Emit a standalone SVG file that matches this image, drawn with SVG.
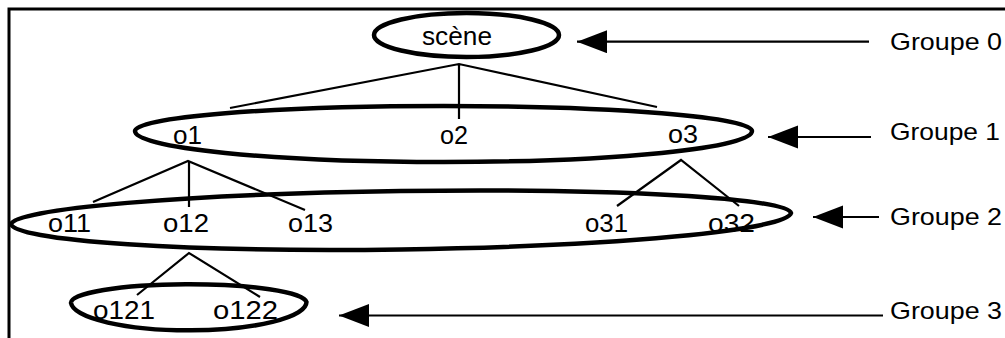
<svg xmlns="http://www.w3.org/2000/svg" width="1005" height="338" viewBox="0 0 1005 338">
<style>
.bg{fill:#fff}
.frame{stroke:#000;stroke-width:3;fill:none}
.grp{fill:none;stroke:#000;stroke-width:4.5}
.edge{stroke:#000;stroke-width:2.2;fill:none}
.arr{stroke:#000;stroke-width:2.2;fill:none;marker-end:url(#ah)}
.t{font-family:"Liberation Sans",Arial,Helvetica,sans-serif;font-size:25px;fill:#000}
.g{font-family:"Liberation Sans",Arial,Helvetica,sans-serif;font-size:24px;fill:#000}
</style>
<defs>
<marker id="ah" markerUnits="userSpaceOnUse" markerWidth="31" markerHeight="24" refX="30" refY="11.5" orient="auto">
<path d="M0,0 L30,11.5 L0,23 z" fill="#000"/>
</marker>
</defs>
<rect class="bg" x="0" y="0" width="1005" height="338"/>
<path class="frame" d="M9,338 L9,9 L1005,9"/>
<g id="groupe0">
<ellipse class="grp" cx="466.5" cy="35" rx="92.5" ry="22"/>
<text class="t" x="422" y="45" font-size="26" textLength="70" lengthAdjust="spacingAndGlyphs">scène</text>
</g>
<g id="groupe1">
<path class="grp" d="M135,131 A308.5,25 0 0 1 752,131 A308.5,31 0 0 1 135,131 Z"/>
<text class="t" x="173" y="144" textLength="29" lengthAdjust="spacingAndGlyphs">o1</text>
<text class="t" x="440" y="144" textLength="28" lengthAdjust="spacingAndGlyphs">o2</text>
<text class="t" x="668" y="143" textLength="30" lengthAdjust="spacingAndGlyphs">o3</text>
</g>
<g id="groupe2">
<path class="grp" d="M11,224 A390.1,28 -0.81 0 1 791,213 A390.1,31.5 -0.81 0 1 11,224 Z"/>
<text class="t" x="48" y="232" textLength="43" lengthAdjust="spacingAndGlyphs">o11</text>
<text class="t" x="163" y="232" textLength="46" lengthAdjust="spacingAndGlyphs">o12</text>
<text class="t" x="288" y="232" textLength="45" lengthAdjust="spacingAndGlyphs">o13</text>
<text class="t" x="585" y="232" textLength="43" lengthAdjust="spacingAndGlyphs">o31</text>
<text class="t" x="708" y="232" textLength="47" lengthAdjust="spacingAndGlyphs">o32</text>
</g>
<g id="groupe3">
<path class="grp" d="M71,303 A117.8,18.5 0 0 1 306.5,302 A117.8,28.5 0 0 1 71,303 Z"/>
<text class="t" x="93" y="319" textLength="62" lengthAdjust="spacingAndGlyphs">o121</text>
<text class="t" x="213" y="319" textLength="65" lengthAdjust="spacingAndGlyphs">o122</text>
</g>
<g id="labels">
<text class="g" x="890" y="50" textLength="112" lengthAdjust="spacingAndGlyphs">Groupe 0</text>
<text class="g" x="890" y="140" textLength="110" lengthAdjust="spacingAndGlyphs">Groupe 1</text>
<text class="g" x="890" y="225" textLength="112" lengthAdjust="spacingAndGlyphs">Groupe 2</text>
<text class="g" x="890" y="319" textLength="112" lengthAdjust="spacingAndGlyphs">Groupe 3</text>
</g>
<g id="connectors">
<path class="edge" d="M230,108 L459,64 L657,107 M459,64 L459,119"/>
<path class="edge" d="M93,202 L188,161 L305,210 M189,161 L189,207"/>
<path class="edge" d="M617,206 L681,160 L739,206"/>
<path class="edge" d="M137,295 L189,253 L260,297"/>
<line class="arr" x1="869" y1="41.7" x2="577" y2="41.7"/>
<line class="arr" x1="871" y1="137" x2="768" y2="137"/>
<line class="arr" x1="879" y1="217" x2="813" y2="217"/>
<line class="arr" x1="883" y1="315.5" x2="339" y2="315.5"/>
</g>
</svg>
